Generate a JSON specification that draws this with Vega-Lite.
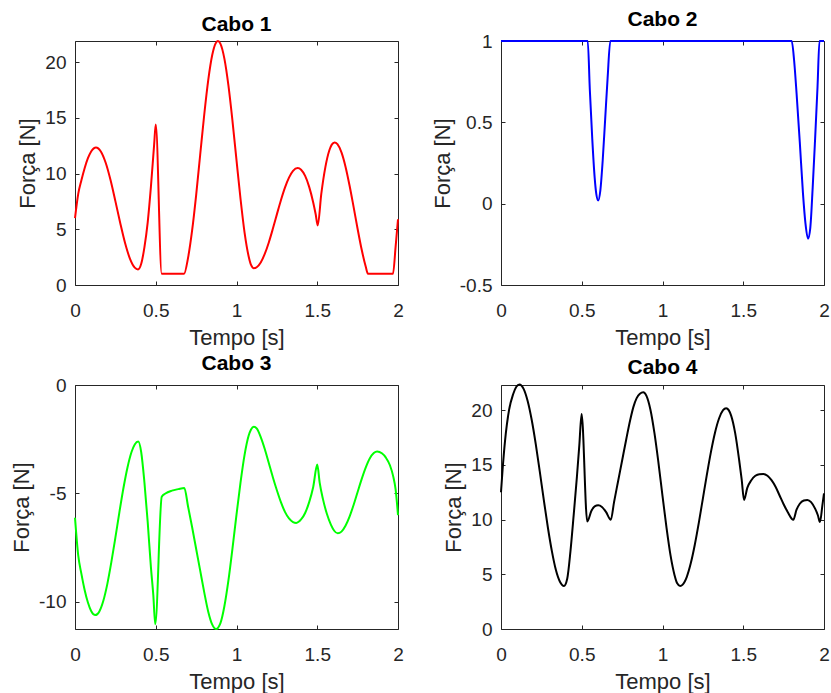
{
  "$schema": "https://vega.github.io/schema/vega-lite/v6.json",
  "background": "white",
  "padding": {"left": 10, "top": 8, "right": 0, "bottom": 0},
  "config": {
    "view": {"stroke": "#262626", "strokeWidth": 1},
    "font": "Liberation Sans",
    "axis": {
      "domain": false, "grid": false, "tickSize": -4, "tickColor": "#262626", "tickWidth": 1,
      "labelFont": "Liberation Sans", "labelFontSize": 19, "labelColor": "#262626",
      "labelFlush": false, "labelOverlap": false,
      "labelExpr": "(datum.value < 0 ? '-' : '') + format(abs(datum.value), '~g')",
      "titleFont": "Liberation Sans", "titleFontSize": 22, "titleFontWeight": "normal", "titleColor": "#262626"
    },
    "axisX": {"labelPadding": 20, "titlePadding": 7},
    "axisY": {"labelPadding": 13, "titlePadding": 5},
    "title": {"font": "Liberation Sans", "fontSize": 21, "fontWeight": "bold", "color": "#000000", "offset": 2, "baseline": "bottom", "frame": "group", "anchor": "middle"},
    "line": {"interpolate": "monotone", "strokeWidth": 2}
  },
  "datasets": {
    "c1": [
      {"t":0,"f":6.0},{"t":0.02,"f":8.18},{"t":0.04,"f":9.42},{"t":0.06,"f":10.5},{"t":0.08,"f":11.38},{"t":0.1,"f":11.99},{"t":0.13,"f":12.35},{"t":0.16,"f":11.99},{"t":0.19,"f":10.97},{"t":0.22,"f":9.42},{"t":0.25,"f":7.53},{"t":0.28,"f":5.57},{"t":0.31,"f":3.77},{"t":0.34,"f":2.37},{"t":0.37,"f":1.56},{"t":0.39,"f":1.4},{"t":0.41,"f":1.9},{"t":0.43,"f":3.4},{"t":0.45,"f":5.6},{"t":0.47,"f":8.8},{"t":0.49,"f":12.6},{"t":0.5,"f":14.4},{"t":0.537,"f":1.0},{"t":0.675,"f":1.0},{"t":0.7,"f":2.44},{"t":0.725,"f":4.87},{"t":0.75,"f":8.05},{"t":0.775,"f":11.67},{"t":0.8,"f":15.26},{"t":0.825,"f":18.39},{"t":0.85,"f":20.66},{"t":0.87,"f":21.67},{"t":0.885,"f":21.9},{"t":0.9,"f":21.67},{"t":0.925,"f":20.32},{"t":0.95,"f":17.91},{"t":0.975,"f":14.74},{"t":1.0,"f":11.2},{"t":1.025,"f":7.72},{"t":1.05,"f":4.7},{"t":1.075,"f":2.58},{"t":1.09,"f":1.8},{"t":1.108,"f":1.5},{"t":1.125,"f":1.59},{"t":1.15,"f":2.02},{"t":1.175,"f":2.79},{"t":1.2,"f":3.82},{"t":1.225,"f":5.04},{"t":1.25,"f":6.34},{"t":1.275,"f":7.61},{"t":1.3,"f":8.74},{"t":1.325,"f":9.64},{"t":1.35,"f":10.25},{"t":1.379,"f":10.5},{"t":1.4,"f":10.35},{"t":1.425,"f":9.79},{"t":1.45,"f":8.81},{"t":1.475,"f":7.41},{"t":1.49,"f":6.37},{"t":1.503,"f":5.35},{"t":1.525,"f":8.17},{"t":1.55,"f":10.56},{"t":1.575,"f":12.09},{"t":1.59,"f":12.6},{"t":1.607,"f":12.8},{"t":1.625,"f":12.64},{"t":1.65,"f":11.9},{"t":1.675,"f":10.62},{"t":1.7,"f":8.93},{"t":1.725,"f":7.01},{"t":1.75,"f":5.03},{"t":1.775,"f":3.18},{"t":1.8,"f":1.66},{"t":1.814,"f":1.0},{"t":1.969,"f":1.0},{"t":1.985,"f":3.4},{"t":2.0,"f":5.9}
    ],
    "c2": [
      {"t":0,"f":1},{"t":0.537,"f":1},{"t":0.55,"f":0.7},{"t":0.565,"f":0.4},{"t":0.58,"f":0.16},{"t":0.59,"f":0.06},{"t":0.602,"f":0.02},{"t":0.615,"f":0.08},{"t":0.63,"f":0.27},{"t":0.645,"f":0.52},{"t":0.66,"f":0.77},{"t":0.677,"f":1},{"t":1.8,"f":1},{"t":1.815,"f":0.88},{"t":1.83,"f":0.68},{"t":1.85,"f":0.38},{"t":1.87,"f":0.06},{"t":1.885,"f":-0.12},{"t":1.901,"f":-0.215},{"t":1.915,"f":-0.15},{"t":1.93,"f":0.1},{"t":1.945,"f":0.4},{"t":1.96,"f":0.72},{"t":1.972,"f":1},{"t":2.0,"f":1}
    ],
    "c3": [
      {"t":0,"f":-6.12},{"t":0.02,"f":-7.86},{"t":0.04,"f":-8.72},{"t":0.06,"f":-9.46},{"t":0.08,"f":-10.03},{"t":0.1,"f":-10.42},{"t":0.126,"f":-10.61},{"t":0.15,"f":-10.45},{"t":0.175,"f":-9.96},{"t":0.2,"f":-9.18},{"t":0.225,"f":-8.17},{"t":0.25,"f":-7.04},{"t":0.275,"f":-5.86},{"t":0.3,"f":-4.75},{"t":0.325,"f":-3.8},{"t":0.35,"f":-3.09},{"t":0.37,"f":-2.74},{"t":0.392,"f":-2.61},{"t":0.41,"f":-3.1},{"t":0.43,"f":-4.5},{"t":0.45,"f":-6.3},{"t":0.47,"f":-8.4},{"t":0.485,"f":-9.7},{"t":0.497,"f":-11.03},{"t":0.537,"f":-5.15},{"t":0.56,"f":-5.0},{"t":0.6,"f":-4.87},{"t":0.64,"f":-4.8},{"t":0.677,"f":-4.75},{"t":0.7,"f":-5.6},{"t":0.725,"f":-6.55},{"t":0.75,"f":-7.55},{"t":0.775,"f":-8.55},{"t":0.8,"f":-9.55},{"t":0.825,"f":-10.45},{"t":0.85,"f":-11.05},{"t":0.873,"f":-11.25},{"t":0.9,"f":-10.99},{"t":0.925,"f":-10.2},{"t":0.95,"f":-9.01},{"t":0.975,"f":-7.54},{"t":1.0,"f":-5.98},{"t":1.025,"f":-4.49},{"t":1.05,"f":-3.22},{"t":1.075,"f":-2.34},{"t":1.09,"f":-2.05},{"t":1.107,"f":-1.92},{"t":1.125,"f":-2.0},{"t":1.15,"f":-2.4},{"t":1.175,"f":-2.95},{"t":1.2,"f":-3.6},{"t":1.225,"f":-4.25},{"t":1.25,"f":-4.85},{"t":1.275,"f":-5.4},{"t":1.3,"f":-5.85},{"t":1.325,"f":-6.15},{"t":1.35,"f":-6.32},{"t":1.37,"f":-6.36},{"t":1.4,"f":-6.2},{"t":1.425,"f":-5.9},{"t":1.45,"f":-5.4},{"t":1.475,"f":-4.7},{"t":1.5,"f":-3.67},{"t":1.515,"f":-4.5},{"t":1.535,"f":-5.25},{"t":1.56,"f":-5.95},{"t":1.585,"f":-6.45},{"t":1.605,"f":-6.72},{"t":1.627,"f":-6.84},{"t":1.65,"f":-6.76},{"t":1.675,"f":-6.49},{"t":1.7,"f":-6.07},{"t":1.725,"f":-5.53},{"t":1.75,"f":-4.93},{"t":1.775,"f":-4.34},{"t":1.8,"f":-3.81},{"t":1.825,"f":-3.39},{"t":1.85,"f":-3.14},{"t":1.871,"f":-3.07},{"t":1.9,"f":-3.15},{"t":1.925,"f":-3.35},{"t":1.95,"f":-3.7},{"t":1.97,"f":-4.2},{"t":1.985,"f":-4.8},{"t":2.0,"f":-6.0}
    ],
    "c4": [
      {"t":0,"f":12.5},{"t":0.01,"f":14.6},{"t":0.025,"f":17.2},{"t":0.05,"f":20.02},{"t":0.075,"f":21.46},{"t":0.095,"f":22.14},{"t":0.114,"f":22.35},{"t":0.14,"f":21.95},{"t":0.165,"f":20.84},{"t":0.19,"f":19.12},{"t":0.215,"f":16.92},{"t":0.24,"f":14.4},{"t":0.265,"f":11.8},{"t":0.29,"f":9.3},{"t":0.315,"f":7.12},{"t":0.34,"f":5.39},{"t":0.365,"f":4.32},{"t":0.39,"f":3.94},{"t":0.41,"f":4.6},{"t":0.43,"f":7.1},{"t":0.45,"f":10.4},{"t":0.47,"f":13.9},{"t":0.485,"f":16.8},{"t":0.499,"f":19.66},{"t":0.534,"f":9.83},{"t":0.56,"f":10.8},{"t":0.58,"f":11.2},{"t":0.602,"f":11.3},{"t":0.625,"f":11.15},{"t":0.65,"f":10.7},{"t":0.68,"f":9.98},{"t":0.7,"f":11.6},{"t":0.725,"f":13.5},{"t":0.75,"f":15.4},{"t":0.775,"f":17.3},{"t":0.8,"f":19.1},{"t":0.82,"f":20.3},{"t":0.84,"f":21.1},{"t":0.86,"f":21.5},{"t":0.881,"f":21.63},{"t":0.9,"f":21.33},{"t":0.925,"f":20.06},{"t":0.95,"f":17.92},{"t":0.975,"f":15.19},{"t":1.0,"f":12.17},{"t":1.025,"f":9.24},{"t":1.05,"f":6.7},{"t":1.075,"f":4.9},{"t":1.09,"f":4.2},{"t":1.109,"f":3.94},{"t":1.125,"f":4.06},{"t":1.15,"f":4.75},{"t":1.175,"f":6.0},{"t":1.2,"f":7.7},{"t":1.225,"f":9.72},{"t":1.25,"f":11.92},{"t":1.275,"f":14.13},{"t":1.3,"f":16.19},{"t":1.325,"f":17.94},{"t":1.35,"f":19.24},{"t":1.375,"f":20.0},{"t":1.394,"f":20.18},{"t":1.41,"f":20.0},{"t":1.425,"f":19.5},{"t":1.45,"f":17.9},{"t":1.475,"f":15.4},{"t":1.49,"f":13.7},{"t":1.505,"f":11.8},{"t":1.525,"f":12.9},{"t":1.55,"f":13.6},{"t":1.575,"f":14.0},{"t":1.6,"f":14.15},{"t":1.625,"f":14.16},{"t":1.65,"f":14.0},{"t":1.675,"f":13.6},{"t":1.7,"f":13.0},{"t":1.725,"f":12.2},{"t":1.75,"f":11.4},{"t":1.775,"f":10.7},{"t":1.81,"f":9.98},{"t":1.83,"f":10.9},{"t":1.85,"f":11.45},{"t":1.875,"f":11.75},{"t":1.897,"f":11.8},{"t":1.92,"f":11.6},{"t":1.945,"f":11.0},{"t":1.962,"f":10.4},{"t":1.975,"f":9.77},{"t":1.99,"f":11.3},{"t":2.0,"f":12.4}
    ]
  },
  "columns": 2,
  "spacing": {"row": 100, "column": 103},
  "bounds": "flush",
  "concat": [
    {
      "title": "Cabo 1",
      "width": 323, "height": 244,
      "data": {"name": "c1"},
      "layer": [
        {
          "mark": {"type": "line", "color": "#ff0000"},
          "encoding": {
            "x": {"field": "t", "type": "quantitative", "scale": {"domain": [0, 2], "nice": false}, "axis": {"values": [0, 0.5, 1, 1.5, 2], "title": "Tempo [s]"}},
            "y": {"field": "f", "type": "quantitative", "scale": {"domain": [0, 21.9], "nice": false, "zero": false}, "axis": {"values": [0, 5, 10, 15, 20], "title": "Força [N]"}}
          }
        },
        {
          "mark": {"type": "line", "opacity": 0},
          "encoding": {
            "x": {"field": "t", "type": "quantitative", "axis": {"orient": "top", "values": [0, 0.5, 1, 1.5, 2], "labels": false, "title": null}},
            "y": {"field": "f", "type": "quantitative", "axis": {"orient": "right", "values": [0, 5, 10, 15, 20], "labels": false, "title": null}}
          }
        }
      ],
      "resolve": {"axis": {"x": "independent", "y": "independent"}}
    },
    {
      "title": "Cabo 2",
      "width": 323, "height": 244,
      "data": {"name": "c2"},
      "layer": [
        {
          "mark": {"type": "line", "color": "#0000ff"},
          "encoding": {
            "x": {"field": "t", "type": "quantitative", "scale": {"domain": [0, 2], "nice": false}, "axis": {"values": [0, 0.5, 1, 1.5, 2], "title": "Tempo [s]"}},
            "y": {"field": "f", "type": "quantitative", "scale": {"domain": [-0.5, 1], "nice": false, "zero": false}, "axis": {"values": [-0.5, 0, 0.5, 1], "title": "Força [N]"}}
          }
        },
        {
          "mark": {"type": "line", "opacity": 0},
          "encoding": {
            "x": {"field": "t", "type": "quantitative", "axis": {"orient": "top", "values": [0, 0.5, 1, 1.5, 2], "labels": false, "title": null}},
            "y": {"field": "f", "type": "quantitative", "axis": {"orient": "right", "values": [-0.5, 0, 0.5, 1], "labels": false, "title": null}}
          }
        }
      ],
      "resolve": {"axis": {"x": "independent", "y": "independent"}}
    },
    {
      "title": "Cabo 3",
      "width": 323, "height": 244,
      "data": {"name": "c3"},
      "layer": [
        {
          "mark": {"type": "line", "color": "#00ff00"},
          "encoding": {
            "x": {"field": "t", "type": "quantitative", "scale": {"domain": [0, 2], "nice": false}, "axis": {"values": [0, 0.5, 1, 1.5, 2], "title": "Tempo [s]"}},
            "y": {"field": "f", "type": "quantitative", "scale": {"domain": [-11.25, 0], "nice": false, "zero": false}, "axis": {"values": [-10, -5, 0], "title": "Força [N]"}}
          }
        },
        {
          "mark": {"type": "line", "opacity": 0},
          "encoding": {
            "x": {"field": "t", "type": "quantitative", "axis": {"orient": "top", "values": [0, 0.5, 1, 1.5, 2], "labels": false, "title": null}},
            "y": {"field": "f", "type": "quantitative", "axis": {"orient": "right", "values": [-10, -5, 0], "labels": false, "title": null}}
          }
        }
      ],
      "resolve": {"axis": {"x": "independent", "y": "independent"}}
    },
    {
      "title": "Cabo 4",
      "width": 323, "height": 244,
      "data": {"name": "c4"},
      "layer": [
        {
          "mark": {"type": "line", "color": "#000000"},
          "encoding": {
            "x": {"field": "t", "type": "quantitative", "scale": {"domain": [0, 2], "nice": false}, "axis": {"values": [0, 0.5, 1, 1.5, 2], "title": "Tempo [s]"}},
            "y": {"field": "f", "type": "quantitative", "scale": {"domain": [0, 22.3], "nice": false, "zero": false}, "axis": {"values": [0, 5, 10, 15, 20], "title": "Força [N]"}}
          }
        },
        {
          "mark": {"type": "line", "opacity": 0},
          "encoding": {
            "x": {"field": "t", "type": "quantitative", "axis": {"orient": "top", "values": [0, 0.5, 1, 1.5, 2], "labels": false, "title": null}},
            "y": {"field": "f", "type": "quantitative", "axis": {"orient": "right", "values": [0, 5, 10, 15, 20], "labels": false, "title": null}}
          }
        }
      ],
      "resolve": {"axis": {"x": "independent", "y": "independent"}}
    }
  ]
}
